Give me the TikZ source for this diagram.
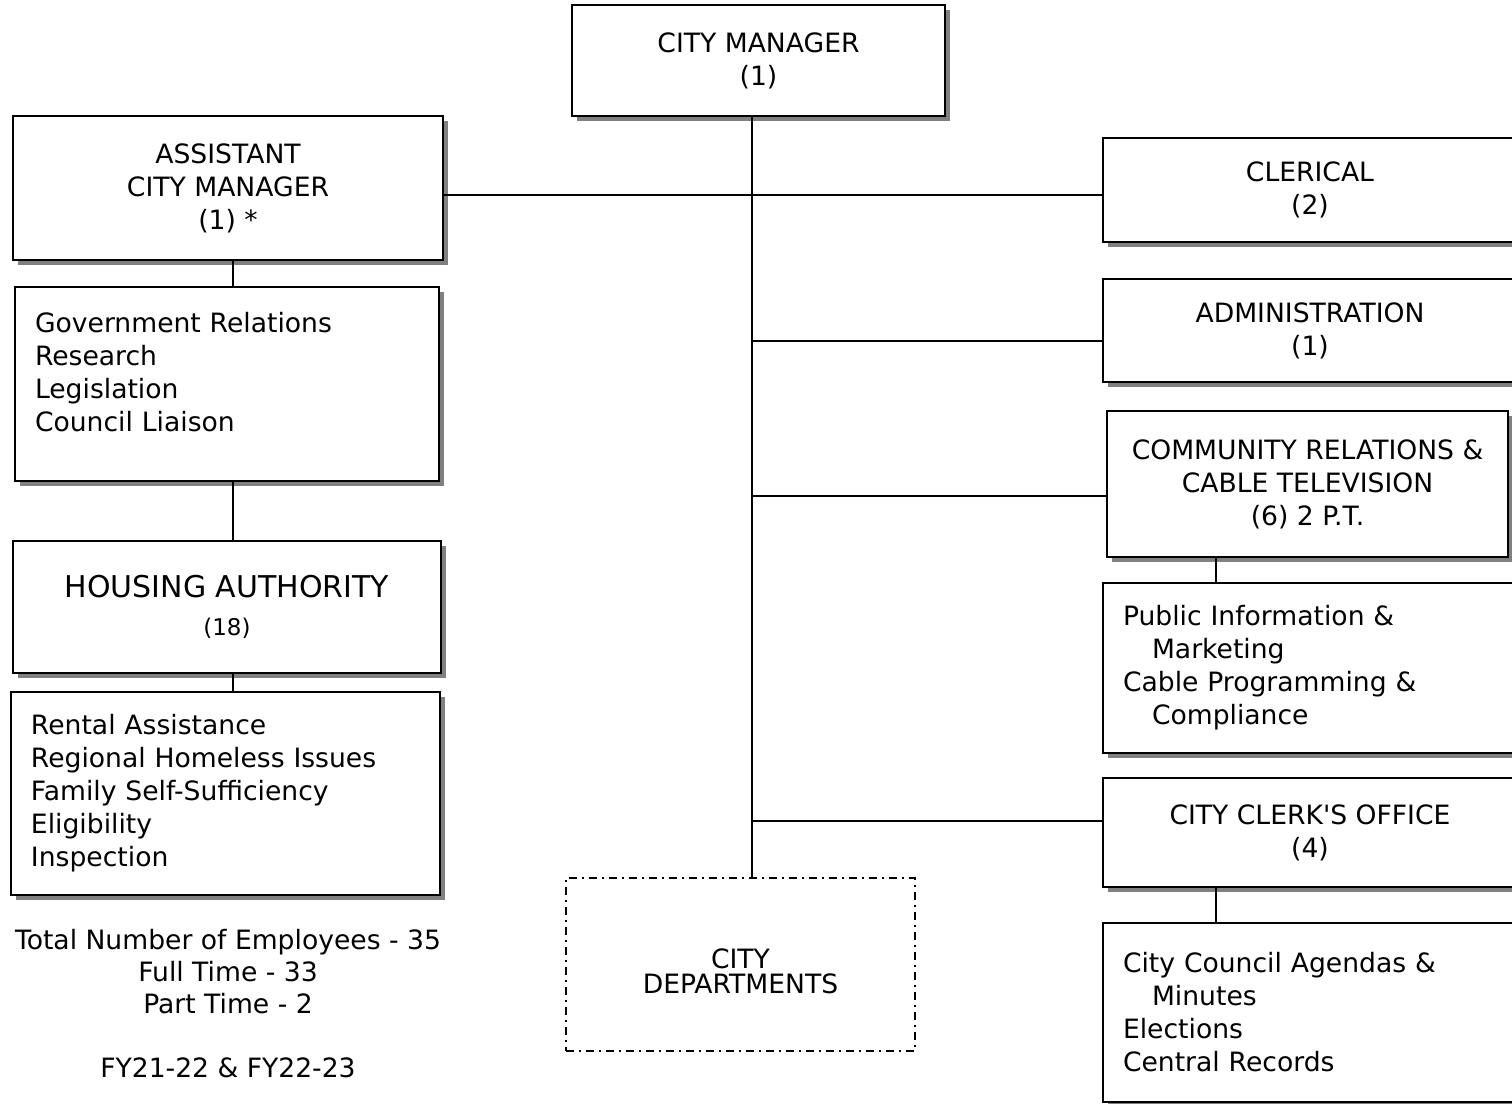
\documentclass[tikz,border=0pt]{standalone}
\usepackage{fontspec}
\setmainfont{DejaVu Sans}[Ligatures=TeXOff]
\usetikzlibrary{shadows}

\begin{document}
\begin{tikzpicture}[x=0.5pt,y=-0.5pt,
    box/.style={draw,line width=1pt,fill=white,align=center,inner sep=0pt,
        font=\fontsize{13.3pt}{16.5pt}\selectfont,
        drop shadow={shadow xshift=2.5pt,shadow yshift=-2.5pt,fill=black!50,opacity=1}},
    listbox/.style={box,align=left,inner xsep=10pt},
    deptbox/.style={draw,line width=0.8pt,align=center,inner sep=0pt,
        dash pattern=on 4pt off 2.5pt on 1pt off 2.5pt,
        font=\fontsize{13.3pt}{12.5pt}\selectfont},
    conn/.style={line width=0.8pt},
    ]
    \useasboundingbox (0,0) rectangle (1512,1104);
    % middle
    \node[box,minimum width=186.5pt,minimum height=55.5pt] (cm) at (758.5,60.5) {CITY MANAGER\\(1)};
    \node[deptbox,minimum width=174.5pt,minimum height=86.5pt] (dept) at (740.5,964.5) {\rule{0pt}{16.5pt}CITY\\DEPARTMENTS};
    % left column
    \node[box,minimum width=215pt,minimum height=72pt] (acm) at (228,188) {ASSISTANT\\CITY MANAGER\\(1) *};
    \node[listbox,text width=192pt,minimum height=97pt] (gov) at (227,384)
        {Government Relations\\Research\\Legislation\\Council Liaison\\[-4.5pt]\mbox{}};
    \node[box,minimum width=214pt,minimum height=66pt,font=\fontsize{15pt}{19pt}\selectfont] (ha) at (227,607)
        {HOUSING AUTHORITY\\{\fontsize{11.5pt}{14pt}\selectfont (18)}};
    \node[listbox,text width=194.5pt,minimum height=101.5pt] (rent) at (225.5,793.5)
        {Rental Assistance\\Regional Homeless Issues\\Family Self-Sufficiency\\Eligibility\\Inspection};
    \node[align=center,inner sep=0pt,font=\fontsize{13.3pt}{16pt}\selectfont] (tot) at (228,1004)
        {Total Number of Employees - 35\\Full Time - 33\\Part Time - 2\\[16pt]FY21-22 \& FY22-23};
    % right column
    \node[box,minimum width=207pt,minimum height=52pt] (cler) at (1310,190) {CLERICAL\\(2)};
    \node[box,minimum width=207pt,minimum height=51.5pt] (adm) at (1310,330.5) {ADMINISTRATION\\(1)};
    \node[box,minimum width=200.5pt,minimum height=73pt] (comm) at (1307.5,484)
        {COMMUNITY RELATIONS \&\\CABLE TELEVISION\\(6) 2 P.T.};
    \node[listbox,text width=190pt,minimum height=85pt] (pub) at (1313,668)
        {Public Information \&\\\hspace*{14.5pt}Marketing\\Cable Programming \&\\\hspace*{14.5pt}Compliance};
    \node[box,minimum width=207pt,minimum height=54.5pt] (clerk) at (1310,832.5) {CITY CLERK'S OFFICE\\(4)};
    \node[listbox,text width=190pt,minimum height=89.5pt] (cncl) at (1313,1012.5)
        {City Council Agendas \&\\\hspace*{14.5pt}Minutes\\Elections\\Central Records};
    % connectors
    \coordinate (t) at (752,0);
    \coordinate (l) at (233,0);
    \coordinate (r) at (1216,0);
    \coordinate (y1) at (0,195);
    \coordinate (y2) at (0,341);
    \coordinate (y3) at (0,496);
    \coordinate (y4) at (0,821);
    \draw[conn] (t |- cm.south) -- (t |- dept.north);
    \draw[conn] (acm.east |- y1) -- (cler.west |- y1);
    \draw[conn] (t |- y2) -- (adm.west |- y2);
    \draw[conn] (t |- y3) -- (comm.west |- y3);
    \draw[conn] (t |- y4) -- (clerk.west |- y4);
    \draw[conn] (l |- acm.south) -- (l |- gov.north);
    \draw[conn] (l |- gov.south) -- (l |- ha.north);
    \draw[conn] (l |- ha.south) -- (l |- rent.north);
    \draw[conn] (r |- comm.south) -- (r |- pub.north);
    \draw[conn] (r |- clerk.south) -- (r |- cncl.north);
\end{tikzpicture}
\end{document}
